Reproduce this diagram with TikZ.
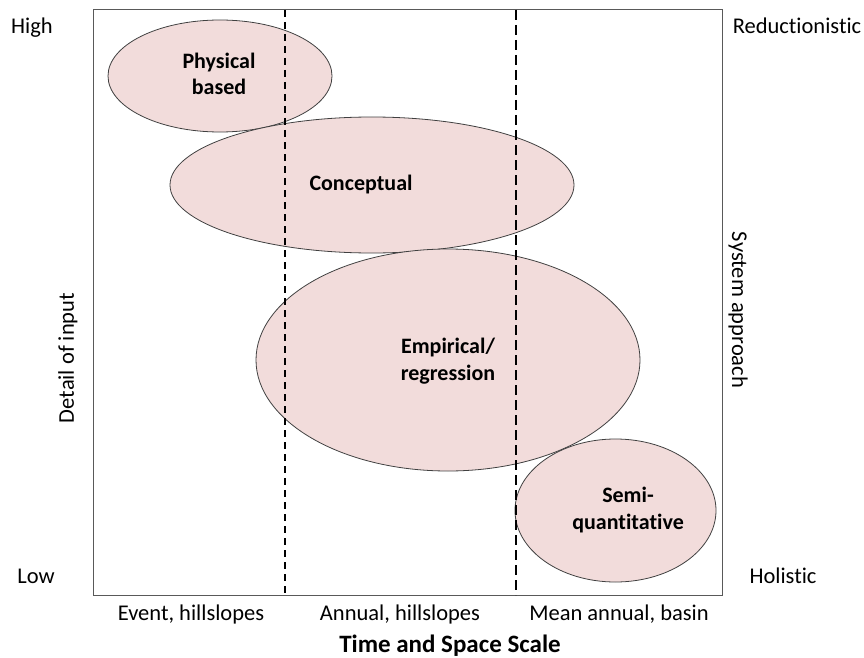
\documentclass[tikz,border=0pt]{standalone}
\usepackage{fontspec}
\setmainfont[Ligatures=NoCommon]{Carlito}
\usetikzlibrary{shapes.geometric}
\definecolor{blobfill}{HTML}{F2DCDB}
\definecolor{blobline}{HTML}{404040}
\definecolor{framecol}{HTML}{595959}
\tikzset{
  blob/.style={ellipse, draw=blobline, line width=0.8pt, fill=blobfill, inner sep=0pt},
  blobtext/.style={font=\fontsize{22}{26.5}\selectfont\bfseries, align=center, inner sep=0pt},
  axtext/.style={font=\fontsize{22.5}{27}\selectfont, inner sep=0pt},
  titletext/.style={font=\fontsize{25}{30}\selectfont\bfseries, inner sep=0pt},
  divider/.style={line width=1.5pt, dash pattern=on 7pt off 5pt},
  thickdivider/.style={line width=2.6pt, dash pattern=on 10pt off 5pt},
}
\begin{document}
\begin{tikzpicture}[x=1pt, y=-1pt]
  \useasboundingbox (0,0) rectangle (864,658);

  % category bubbles
  \node[blob, minimum width=224pt, minimum height=112pt] (phys) at (220,76) {};
  \node[blob, minimum width=404pt, minimum height=136pt] (conc) at (372,185) {};
  \node[blob, minimum width=384pt, minimum height=222pt] (emp) at (448,360) {};
  \node[blob, minimum width=201pt, minimum height=143pt] (semi) at (615.5,510.5) {};

  % plot frame and scale dividers
  \coordinate (tl) at (93,10);
  \coordinate (br) at (722,595);
  \draw[framecol, line width=1pt] (tl) rectangle (br);
  \coordinate (d1t) at (285,10);
  \coordinate (d1b) at (285,595);
  \coordinate (d2t) at (516,10);
  \coordinate (d2b) at (516,595);
  \draw[divider] (d1t) -- (d1b);
  \draw[thickdivider] (d2t) -- (d2b);

  % bubble labels
  \node[blobtext] (physl) at (219,74) {Physical\\based};
  \node[blobtext] (concl) at (361,185) {Conceptual};
  \node[blobtext] (empl) at (448,361) {Empirical/\\regression};
  \node[blobtext] (semil) at (628,510) {Semi-\\quantitative};

  % axis labels
  \node[axtext, anchor=base] (high) at (32,34) {High};
  \node[axtext, anchor=base] (low) at (36,583) {Low};
  \node[axtext, anchor=base] (red) at (797,34) {Reductionistic};
  \node[axtext, anchor=base] (hol) at (783,583) {Holistic};
  \node[axtext, rotate=90] (detail) at (68,358) {Detail of input};
  \node[axtext, rotate=-90] (sys) at (738,310) {System approach};
  \node[axtext, anchor=base] (ev) at (191,620) {Event, hillslopes};
  \node[axtext, anchor=base] (ann) at (400,620) {Annual, hillslopes};
  \node[axtext, anchor=base] (mean) at (619,620) {Mean annual, basin};
  \node[titletext, anchor=base] (title) at (450,652) {Time and Space Scale};
\end{tikzpicture}
\end{document}
